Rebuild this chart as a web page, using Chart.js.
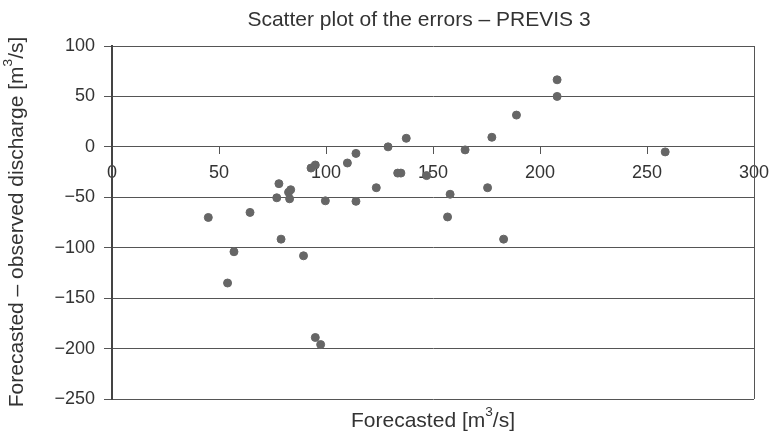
<!DOCTYPE html>
<html>
<head>
<meta charset="utf-8">
<script src="https://cdn.jsdelivr.net/npm/chart.js@4.4.1/dist/chart.umd.min.js"></script>
<style>
  html, body { margin: 0; padding: 0; background: #fff; }
  #wrap { width: 769px; height: 437px; }
</style>
</head>
<body>
<div id="wrap"><canvas id="grafico"></canvas></div>
<script>
// forecasted discharge (x) and forecast error (y)
var forecasted = [45, 64.5, 77, 78, 82.5, 83.5, 83, 93, 95, 99.7, 110, 114, 114, 123.5, 129, 133.5, 135, 137.5,
                  147, 156.8, 158, 165, 175.5, 177.5, 183, 189, 208, 208, 258.5, 79, 57, 89.5, 54, 95, 97.5];
var errors = [-70, -65, -50.5, -36.5, -45, -42.5, -51.5, -21, -18, -53.5, -16, -6.5, -54, -40.5, 0, -26, -26, 8.5,
              -28.5, -69.5, -47, -3, -40.5, 9.5, -91.5, 31.5, 50, 66.5, -5, -91.5, -104, -108, -135, -189, -196];
var xTickValues = [0, 50, 100, 150, 200, 250, 300];
var yTickValues = [-250, -200, -150, -100, -50, 0, 50, 100];

var titleText = "Scatter plot of the errors \u2013 PREVIS 3";
var fontFam = "'Liberation Sans', Arial, sans-serif";
var textColor = "#333";

var points = [];
for (var i = 0; i < forecasted.length; i++) {
    points.push({ x: forecasted[i], y: errors[i] });
}

// draw text with a superscript part, centred at x
function drawParts(ctx, parts, x, y, size) {
    var w = 0;
    for (var p of parts) {
        ctx.font = (p[1] ? size * 0.65 : size) + "px " + fontFam;
        w += ctx.measureText(p[0]).width;
    }
    var cx = x - w / 2;
    for (var p of parts) {
        ctx.font = (p[1] ? size * 0.65 : size) + "px " + fontFam;
        ctx.fillText(p[0], cx, p[1] ? y - size * 0.4 : y);
        cx += ctx.measureText(p[0]).width;
    }
}

var extras = {
    id: 'extras',
    afterDraw: function(chart) {
        var ctx = chart.ctx;
        var a = chart.chartArea;
        ctx.save();
        // right side of the frame
        ctx.strokeStyle = "#555";
        ctx.lineWidth = 1;
        ctx.beginPath();
        ctx.moveTo(Math.round(a.right) + 0.5, a.top);
        ctx.lineTo(Math.round(a.right) + 0.5, a.bottom);
        ctx.stroke();

        ctx.fillStyle = textColor;
        ctx.textAlign = "left";
        ctx.textBaseline = "middle";
        // title
        drawParts(ctx, [[titleText, false]], 419, 20, 21);
        // x axis title
        drawParts(ctx, [["Forecasted [m", false], ["3", true], ["/s]", false]], 433, 421, 21);
        // y axis title
        ctx.translate(17, 222);
        ctx.rotate(-Math.PI / 2);
        drawParts(ctx, [["Forecasted \u2013 observed discharge [m", false], ["3", true], ["/s]", false]], 0, 0, 21);
        ctx.restore();
    }
};

var graph = new Chart(document.getElementById("grafico"), {
    type: "scatter",
    data: {
        datasets: [{
            data: points,
            backgroundColor: "#666",
            borderColor: "#666",
            pointRadius: 4,
            pointHoverRadius: 4
        }]
    },
    options: {
        responsive: true,
        maintainAspectRatio: false,
        animation: false,
        layout: { padding: { left: 0, right: 15, top: 46, bottom: 38 } },
        plugins: { legend: { display: false }, tooltip: { enabled: false } },
        scales: {
            x: {
                type: "linear",
                position: { y: 0 },
                min: 0,
                max: 300,
                afterBuildTicks: function(s) { s.ticks = xTickValues.map(function(v) { return { value: v }; }); },
                afterFit: function(s) { s.paddingLeft = 0; s.paddingRight = 0; },
                grid: { drawOnChartArea: false, drawTicks: true, tickLength: 7, color: "#555" },
                border: { display: true, color: "#555" },
                ticks: { color: textColor, font: { family: fontFam, size: 18 }, padding: 8, maxRotation: 0 }
            },
            y: {
                type: "linear",
                min: -250,
                max: 100,
                afterBuildTicks: function(s) { s.ticks = yTickValues.map(function(v) { return { value: v }; }); },
                afterFit: function(s) { s.width = 112; s.paddingTop = 0; s.paddingBottom = 0; },
                grid: { color: "#555", tickLength: 8 },
                border: { display: true, color: "#444", width: 2 },
                ticks: {
                    color: textColor,
                    font: { family: fontFam, size: 18 },
                    padding: 9,
                    callback: function(v) { return v < 0 ? "\u2212" + Math.abs(v) : "" + v; }
                }
            }
        }
    },
    plugins: [extras]
});
</script>
</body>
</html>
